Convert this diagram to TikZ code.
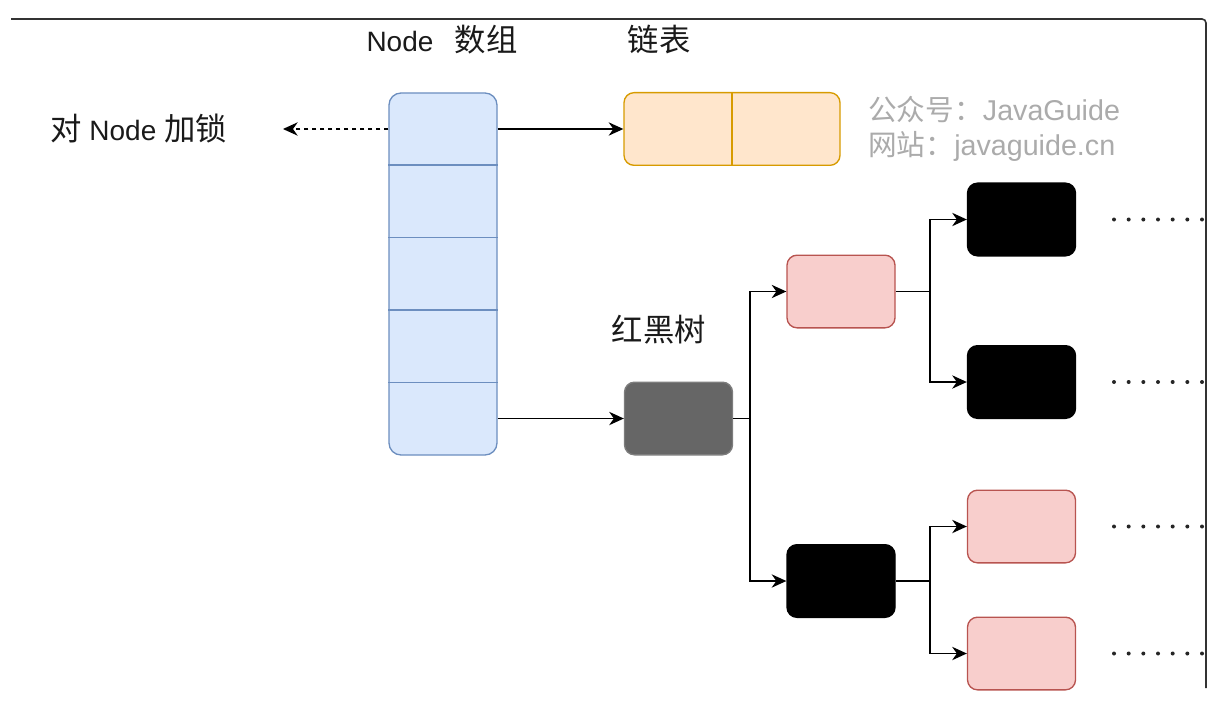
\documentclass[tikz,border=0pt]{standalone}
\usepackage{fontspec}
\setmainfont{Liberation Sans}
\newfontfamily\cjk{Noto Sans CJK SC}[Scale=1.12]
\newfontfamily\cjkwm{Noto Sans CJK SC}
\usetikzlibrary{arrows.meta}
\definecolor{blueS}{HTML}{6C8EBF}
\definecolor{blueF}{HTML}{DAE8FC}
\definecolor{orS}{HTML}{D79B00}
\definecolor{orF}{HTML}{FFE6CC}
\definecolor{redS}{HTML}{B85450}
\definecolor{redF}{HTML}{F8CECC}
\definecolor{dgF}{HTML}{666666}
\definecolor{wm}{HTML}{ABABAB}
\definecolor{txt}{HTML}{1A1A1A}
\tikzset{
  x=0.75pt, y=-0.75pt,
  box/.style={rectangle, rounded corners=7.5pt, line width=1pt, minimum width=81pt, minimum height=54.5pt, inner sep=0pt},
  redbox/.style={box, draw=redS, fill=redF},
  blackbox/.style={box, draw=black, fill=black},
  tip/.style={-{Stealth[length=11pt,width=10pt,inset=3.5pt]}},
  arr/.style={line width=1.1pt, tip},
  lbl/.style={text=txt, font=\fontsize{21pt}{24pt}\selectfont, inner sep=0pt},
  wmtext/.style={text=wm, font=\fontsize{21.5pt}{24pt}\selectfont, anchor=west, inner sep=0pt},
  dots/.style={line width=3pt, line cap=round, dash pattern=on 0pt off 11pt, draw=black!85},
}
\begin{document}
\begin{tikzpicture}
\useasboundingbox (0,0) rectangle (1213,706);
% frame
\draw[line width=1.2pt, draw=black!80, rounded corners=3pt] (11,19) -- (1206,19) -- (1206,688);

% labels
\node[lbl] (tarr) at (442,40) {Node\hspace{16pt}{\cjk 数组}};
\node[lbl] (tlist) at (659,40) {\cjk 链表};
\node[lbl, anchor=west] (tlock) at (50,129) {{\cjk 对} Node {\cjk 加锁}};
\node[lbl] (ttree) at (659,330) {\cjk 红黑树};
\node[wmtext] (wm1) at (868,110) {{\cjkwm 公众号：}JavaGuide};
\node[wmtext] (wm2) at (868,146) {{\cjkwm 网站：}javaguide.cn};

% array
\node[rectangle, rounded corners=9pt, draw=blueS, fill=blueF, line width=1pt, minimum width=81pt, minimum height=271.5pt, inner sep=0pt] (arr) at (443,274) {};
\foreach \yy in {165,237.5,310,382.5}
  \draw[blueS, line width=1pt] (arr.west |- 0,\yy) -- (arr.east |- 0,\yy);

% linked list
\node[box, draw=orS, fill=orF, minimum width=162pt] (list) at (732,129) {};
\draw[orS, line width=1pt] (list.north) -- (list.south);

% tree nodes
\node[box, draw=dgF!85!white, fill=dgF] (root) at (678.5,418.5) {};
\node[redbox] (r1) at (841,291.5) {};
\node[blackbox] (b2) at (841,581) {};
\node[blackbox] (b3) at (1021.5,219.5) {};
\node[blackbox] (b4) at (1021.5,382) {};
\node[redbox] (r3) at (1021.5,526.5) {};
\node[redbox] (r4) at (1021.5,653.5) {};

% connectors
\coordinate (lockend) at (283,129);
\draw[line width=1pt, dash pattern=on 3pt off 3pt, tip] (arr.west |- list.west) -- (lockend);
\draw[arr] (arr.east |- list.west) -- (list.west);
\draw[arr] (arr.east |- root.west) -- (root.west);

\coordinate (j1) at (750,418.5);
\draw[arr] (root.east) -- (j1) |- (r1.west);
\draw[arr] (j1) |- (b2.west);

\coordinate (j2) at (930,291.5);
\draw[arr] (r1.east) -- (j2) |- (b3.west);
\draw[arr] (j2) |- (b4.west);

\coordinate (j3) at (930,581);
\draw[arr] (b2.east) -- (j3) |- (r3.west);
\draw[arr] (j3) |- (r4.west);

% continuation dots
\foreach \n in {b3,b4,r3,r4}{
  \coordinate (\n s) at (1114,0 |- \n.east);
  \coordinate (\n e) at (1203,0 |- \n.east);
  \draw[dots] (\n s) -- (\n e);
}
\end{tikzpicture}
\end{document}
